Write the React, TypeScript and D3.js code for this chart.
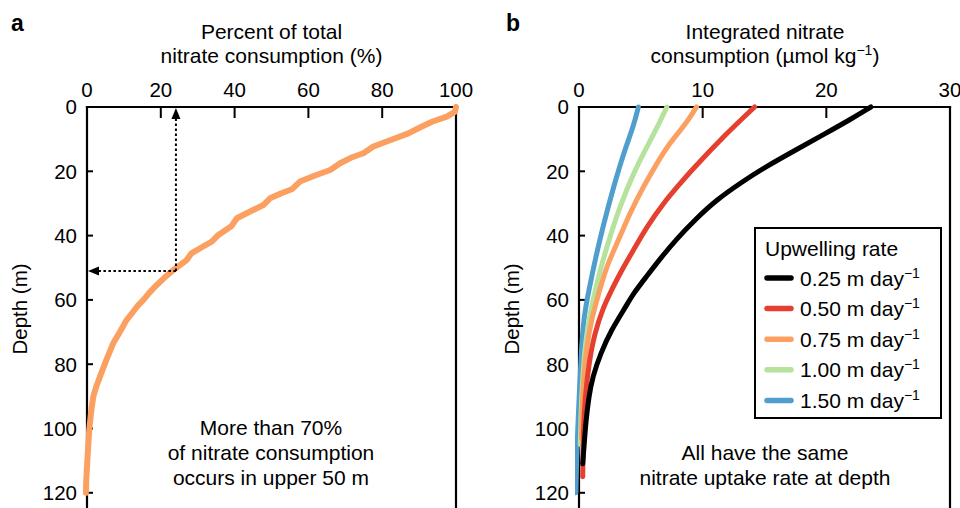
import React from "react";
import * as d3 from "d3";

// ---------- data ----------
const pctTicks = [0, 20, 40, 60, 80, 100];
const depthTicks = [0, 20, 40, 60, 80, 100, 120];
const intTicks = [0, 10, 20, 30];

// panel a: percent of total nitrate consumption vs depth
const pctSeries: [number, number][] = [
  [100, 0], [99.7, 1.5], [97.5, 3], [93.5, 4.6], [89.8, 6.6], [87.1, 8.2], [82.5, 10.2], [77.6, 12.3],
  [74.9, 14.4], [71.5, 15.8], [68.6, 17.5], [65.9, 19.6], [61.8, 21.3], [57.7, 23.2], [55.5, 25.6],
  [52.5, 26.9], [49.6, 28.4], [47.8, 30.5], [44.2, 32.5], [40.6, 34.6], [39.2, 37], [35.6, 39.8],
  [33.8, 41.9], [31, 43.7], [28.3, 45.5], [27.0, 47.6], [25.2, 49.2], [23.4, 50.7], [20.8, 53.3],
  [18.4, 55.9], [16.8, 57.9], [15.3, 60], [13.9, 61.6], [12.3, 64], [10.7, 66.3], [8.9, 70],
  [7.1, 73.5], [5.3, 78.5], [3.5, 83.9], [2.5, 87], [1.7, 90.1], [1.1, 95], [0.6, 100.5],
  [0.3, 106], [0, 111.9], [-0.2, 116], [-0.3, 120]
];

// panel b: integrated nitrate consumption for each upwelling rate
const rateLabels = ["0.25", "0.50", "0.75", "1.00", "1.50"];
const rateColors = ["#000000", "#e5402f", "#fca062", "#b5e39d", "#4f9ecd"];
const series025: [number, number][] = [
  [23.6, 0], [21.9, 4], [19.9, 8.3], [17.7, 13], [15.1, 18.6], [13.3, 23], [11.1, 28.9],
  [9.4, 35], [7.9, 41], [6.6, 47], [5.4, 53], [4.4, 58], [3.8, 62], [2.6, 69.4], [1.75, 76.6],
  [1.1, 83.9], [0.8, 90], [0.55, 98], [0.4, 106], [0.3, 111]
];
const series050: [number, number][] = [
  [14.2, 0], [11.9, 8.3], [9.0, 20.1], [8.2, 23.7], [6.8, 30], [5.5, 37.2], [4.4, 44.5],
  [3.3, 51.8], [2.5, 58], [2.0, 62], [1.25, 70.4], [0.8, 79.7], [0.5, 90], [0.35, 100],
  [0.3, 115]
];
const series075: [number, number][] = [
  [9.5, 0], [8.7, 5], [7.3, 11.3], [6.3, 17.5], [5.2, 24.8], [4.1, 33.1], [3.2, 41.4],
  [2.2, 49.7], [1.6, 58], [1.0, 66], [0.6, 75], [0.35, 85], [0.25, 95], [0.2, 103]
];
const series100: [number, number][] = [
  [7.1, 0], [6.5, 5], [5.5, 12.3], [4.4, 20.6], [3.3, 31], [2.5, 40.3], [1.7, 50.7],
  [1.2, 59], [0.7, 68], [0.4, 78], [0.2, 90], [0.1, 105]
];
const series150: [number, number][] = [
  [4.8, 0], [4.4, 6.1], [3.6, 14.4], [2.8, 24.8], [2.0, 36.2], [1.3, 47.6], [0.8, 57],
  [0.4, 65], [0.2, 75], [0.05, 87], [-0.1, 100], [-0.2, 110], [-0.25, 120]
];
const rateSeries = [series025, series050, series075, series100, series150];

// ---------- layout ----------
const W = 960, H = 508;
const top = 107;
const yScale = d3.scaleLinear().domain([0, 130]).range([top, top + 130 * 3.215]);
const xA = d3.scaleLinear().domain([0, 100]).range([87, 456]);
const xB = d3.scaleLinear().domain([0, 30]).range([579, 950]);
const font = "Liberation Sans, Arial, Helvetica, sans-serif";
const FS = 21;
const TFS = 20.5;

function Panel({ x, ticks, id }: { x: d3.ScaleLinear<number, number>; ticks: number[]; id: string }) {
  const [x0, x1] = x.range();
  return (
    <g>
      <line x1={x0} x2={x1} y1={top} y2={top} stroke="#000" strokeWidth={2.2} strokeLinecap="square" />
      <line x1={x0} x2={x0} y1={top} y2={H + 5} stroke="#000" strokeWidth={2.2} strokeLinecap="square" />
      <line x1={x1} x2={x1} y1={top} y2={H + 5} stroke="#000" strokeWidth={2.2} strokeLinecap="square" />
      {ticks.map((t) => (
        <g key={"t" + t}>
          <line x1={x(t)} x2={x(t)} y1={top} y2={top + 11} stroke="#000" strokeWidth={2} />
          <text x={x(t)} y={97} textAnchor="middle" fontSize={TFS} fontFamily={font}>{t}</text>
        </g>
      ))}
      {depthTicks.map((t) => (
        <g key={"d" + t}>
          <line x1={x0} x2={x0 + 6} y1={yScale(t)} y2={yScale(t)} stroke="#000" strokeWidth={2} />
          <text x={x0 - 10} y={yScale(t)} dy="0.36em" textAnchor="end" fontSize={TFS} fontFamily={font}>{t}</text>
        </g>
      ))}
      <text transform={`translate(${x0 - 60},${309}) rotate(-90)`} textAnchor="middle" fontSize={TFS} fontFamily={font}>Depth (m)</text>
      <clipPath id={id}>
        <rect x={x0 - 4} y={top - 4} width={x1 - x0 + 8} height={H - top + 10} />
      </clipPath>
    </g>
  );
}

export default function App() {
  const lineA = d3.line<[number, number]>().x((d) => xA(d[0])).y((d) => yScale(d[1])).curve(d3.curveLinear);
  const lineB = d3.line<[number, number]>().x((d) => xB(d[0])).y((d) => yScale(d[1])).curve(d3.curveBasis);
  const arrowX = 24.1, arrowD = 51;
  const ax = xA(arrowX), ay = yScale(arrowD);
  const legX = 755, legY = 228, legW = 186, legH = 190;
  return (
    <svg width={W} height={H} style={{ position: "absolute", left: 0, top: 0 }} fontFamily={font}>
      <rect width={W} height={H} fill="#fff" />
      {/* panel labels */}
      <text x={11} y={31} fontSize={23} fontWeight="bold">a</text>
      <text x={506} y={31} fontSize={23} fontWeight="bold">b</text>
      {/* titles */}
      <text x={271.5} y={39} textAnchor="middle" fontSize={FS}>Percent of total</text>
      <text x={271.5} y={63} textAnchor="middle" fontSize={FS}>nitrate consumption (%)</text>
      <text x={765} y={39} textAnchor="middle" fontSize={FS}>Integrated nitrate</text>
      <text x={765} y={63} textAnchor="middle" fontSize={FS}>
        consumption (µmol kg<tspan dy={-8} fontSize={14}>−1</tspan><tspan dy={8}>)</tspan>
      </text>

      <Panel x={xA} ticks={pctTicks} id="clipA" />
      <Panel x={xB} ticks={intTicks} id="clipB" />

      {/* panel a curve */}
      <path d={lineA(pctSeries) || ""} fill="none" stroke="#fca062" strokeWidth={6} strokeLinejoin="round" strokeLinecap="round" clipPath="url(#clipA)" />
      {/* dotted arrows */}
      <line x1={ax} x2={ax} y1={ay} y2={top + 10} stroke="#000" strokeWidth={2} strokeDasharray="2.5 2.5" />
      <path d={`M${ax},${top + 1} L${ax - 4.5},${top + 12} L${ax + 4.5},${top + 12} Z`} fill="#000" />
      <line x1={ax} x2={xA(0) + 10} y1={ay} y2={ay} stroke="#000" strokeWidth={2} strokeDasharray="2.5 2.5" />
      <path d={`M${xA(0) + 1},${ay} L${xA(0) + 12},${ay - 4.5} L${xA(0) + 12},${ay + 4.5} Z`} fill="#000" />
      <text x={271} y={435} textAnchor="middle" fontSize={FS}>More than 70%</text>
      <text x={271} y={460} textAnchor="middle" fontSize={FS}>of nitrate consumption</text>
      <text x={271} y={485} textAnchor="middle" fontSize={FS}>occurs in upper 50 m</text>

      {/* panel b curves (draw light ones first) */}
      {rateSeries.map((s, i) => i).reverse().map((i) => (
        <path key={i} d={lineB(rateSeries[i]) || ""} fill="none" stroke={rateColors[i]} strokeWidth={5} strokeLinecap="round" strokeLinejoin="round" clipPath="url(#clipB)" />
      ))}
      <text x={765} y={460} textAnchor="middle" fontSize={FS}>All have the same</text>
      <text x={765} y={485} textAnchor="middle" fontSize={FS}>nitrate uptake rate at depth</text>

      {/* legend */}
      <rect x={legX} y={legY} width={legW} height={legH} fill="#fff" stroke="#000" strokeWidth={2} />
      <text x={765} y={256} fontSize={FS}>Upwelling rate</text>
      {rateLabels.map((lab, i) => {
        const cy = 278 + i * 30.6;
        return (
          <g key={lab}>
            <line x1={767} x2={791} y1={cy} y2={cy} stroke={rateColors[i]} strokeWidth={5.5} strokeLinecap="round" />
            <text x={800} y={cy} dy="0.36em" fontSize={FS}>
              {lab} m day<tspan dy={-8} fontSize={14}>−1</tspan>
            </text>
          </g>
        );
      })}
    </svg>
  );
}
